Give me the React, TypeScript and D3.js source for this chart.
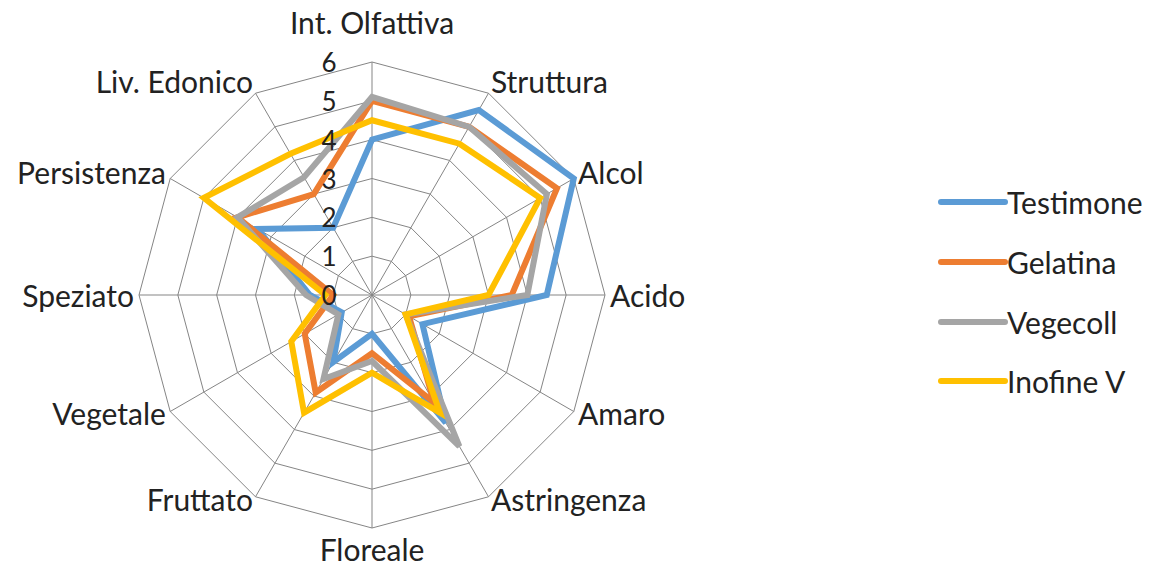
import React, { useEffect, useRef } from "react";
import * as d3 from "d3";

const categories = [
  "Int. Olfattiva",
  "Struttura",
  "Alcol",
  "Acido",
  "Amaro",
  "Astringenza",
  "Floreale",
  "Fruttato",
  "Vegetale",
  "Speziato",
  "Persistenza",
  "Liv. Edonico",
];

const testimone = [4.0, 5.5, 6.0, 4.5, 1.5, 3.8, 1.0, 2.0, 0.9, 1.6, 3.4, 2.0];
const gelatina = [5.0, 5.0, 5.5, 3.6, 1.1, 3.2, 1.5, 2.9, 2.0, 1.0, 4.0, 3.0];
const vegecoll = [5.1, 5.0, 5.2, 4.0, 1.0, 4.5, 1.7, 2.5, 1.0, 1.7, 4.0, 3.5];
const inofine = [4.5, 4.5, 5.0, 3.0, 1.0, 3.5, 2.0, 3.5, 2.4, 1.2, 5.0, 4.2];

const seriesNames = ["Testimone", "Gelatina", "Vegecoll", "Inofine V"];
const seriesColors = ["#5b9bd5", "#ed7d31", "#a5a5a5", "#ffc000"];
const tickValues = [0, 1, 2, 3, 4, 5, 6];

export default function App() {
  const ref = useRef(null);

  useEffect(() => {
    const element = ref.current;
    d3.select(element).selectAll("*").remove();

    const width = 1152;
    const height = 568;
    const cx = 372;
    const cy = 295;
    const R = 233;
    const font = "Lato, 'Open Sans', sans-serif";

    const r = d3.scaleLinear().domain([0, 6]).range([0, R]);
    const angle = d3
      .scaleLinear()
      .domain([0, categories.length])
      .range([0, 2 * Math.PI]);

    const svg = d3
      .select(element)
      .append("svg")
      .attr("width", width)
      .attr("height", height)
      .style("position", "absolute")
      .style("left", 0)
      .style("top", 0)
      .style("background", "#fff");

    const g = svg.append("g").attr("transform", `translate(${cx},${cy})`);

    // grid polygons
    const radar = d3
      .lineRadial()
      .angle((d, i) => angle(i))
      .radius((d) => r(d))
      .curve(d3.curveLinearClosed);

    tickValues
      .filter((t) => t > 0)
      .forEach((t) => {
        g.append("path")
          .attr("d", radar(categories.map(() => t)))
          .attr("fill", "none")
          .attr("stroke", "#858585")
          .attr("stroke-width", 1);
      });

    // spokes
    g.selectAll("line.spoke")
      .data(categories)
      .join("line")
      .attr("class", "spoke")
      .attr("x1", 0)
      .attr("y1", 0)
      .attr("x2", (d, i) => r(6) * Math.sin(angle(i)))
      .attr("y2", (d, i) => -r(6) * Math.cos(angle(i)))
      .attr("stroke", "#858585")
      .attr("stroke-width", 1);

    // series
    const series = [testimone, gelatina, vegecoll, inofine];
    series.forEach((vals, k) => {
      g.append("path")
        .attr("d", radar(vals))
        .attr("fill", "none")
        .attr("stroke", seriesColors[k])
        .attr("stroke-width", 6)
        .attr("stroke-linejoin", "miter");
    });

    // tick labels
    g.selectAll("text.tick")
      .data(tickValues)
      .join("text")
      .attr("class", "tick")
      .attr("x", -43)
      .attr("y", (d) => -r(d))
      .attr("text-anchor", "middle")
      .attr("dominant-baseline", "central")
      .style("font-family", font)
      .style("font-size", "26px")
      .style("fill", "#222")
      .text((d) => d);

    // category labels
    g.selectAll("text.cat")
      .data(categories)
      .join("text")
      .attr("class", "cat")
      .each(function (d, i) {
        const a = angle(i);
        const s = Math.sin(a);
        const c = Math.cos(a);
        const xr = R + 5;
        const yr =
          c > 0.99 ? R + 40 : c < -0.99 ? R + 21 : c > 0.01 ? R + 14 : R + 3;
        d3.select(this)
          .attr("x", xr * s)
          .attr("y", -yr * c)
          .attr(
            "text-anchor",
            s > 0.01 ? "start" : s < -0.01 ? "end" : "middle"
          );
      })
      .attr("dominant-baseline", "central")
      .style("font-family", font)
      .style("font-size", "30px")
      .style("fill", "#222")
      .text((d) => d);

    // legend
    const legendY = [202, 262, 322, 381];
    const legend = svg.append("g");
    seriesNames.forEach((name, k) => {
      legend
        .append("line")
        .attr("x1", 941)
        .attr("x2", 1005)
        .attr("y1", legendY[k])
        .attr("y2", legendY[k])
        .attr("stroke", seriesColors[k])
        .attr("stroke-width", 6)
        .attr("stroke-linecap", "round");
      legend
        .append("text")
        .attr("x", 1007)
        .attr("y", legendY[k])
        .attr("dominant-baseline", "central")
        .style("font-family", font)
        .style("font-size", "30px")
        .style("fill", "#222")
        .text(name);
    });
  }, []);

  return <div ref={ref} />;
}
